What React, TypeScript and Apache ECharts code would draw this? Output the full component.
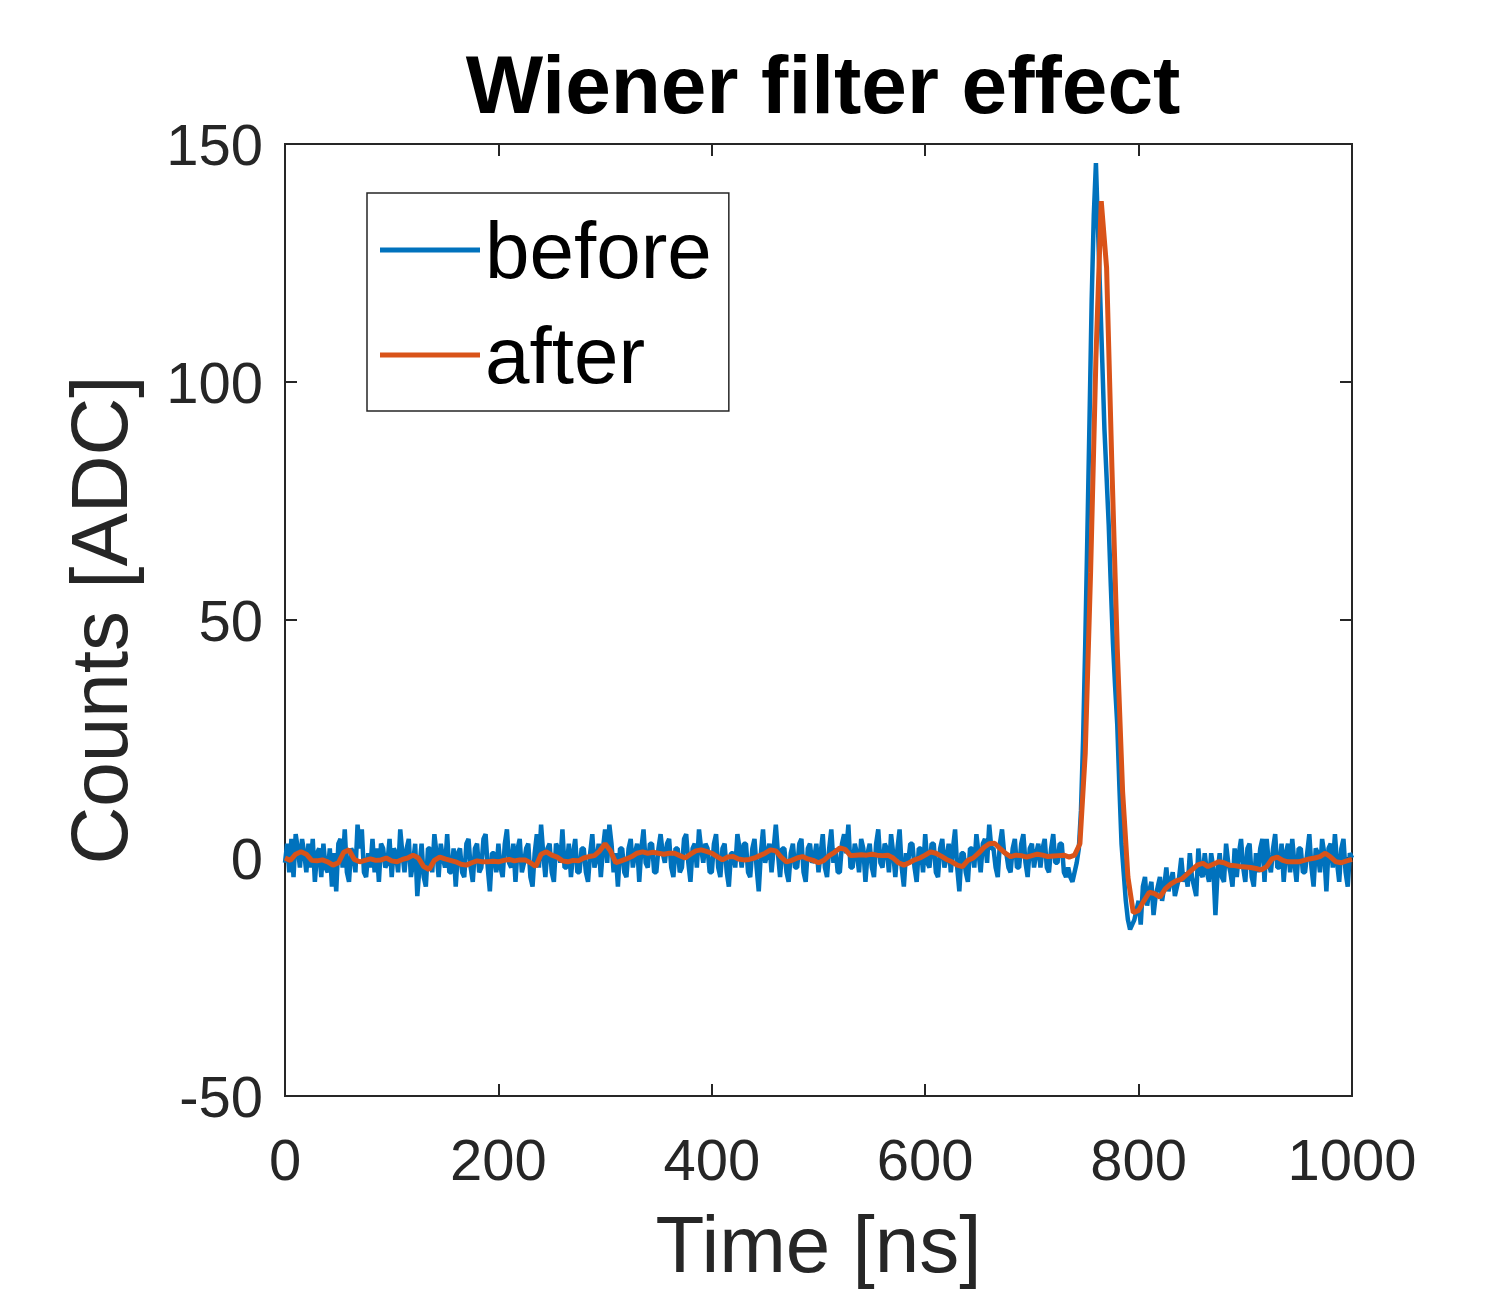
import React, { useEffect, useRef } from "react";
import * as echarts from "echarts";

const TITLE = "Wiener filter effect";
const X_NAME = "Time [ns]";
const Y_NAME = "Counts [ADC]";
const SERIES_NAMES = ["before", "after"];
const X_MIN = 0;
const X_MAX = 1000;
const X_INTERVAL = 200;
const Y_MIN = -50;
const Y_MAX = 150;
const Y_INTERVAL = 50;

// "before": raw waveform, one sample every 2 ns from 0 to 1000 ns
const BEFORE_STEP = 2;
const BEFORE = [
  -1, 3, -3, 4, -4, 5, 2, -2, 4, 1, -3, 3, -2, 4, -5, 1, 2, -4, 3, -2,
  -3, 2, -6, 1, -7, 3, 4, -2, 6, -3, -5, 2, 1, -3, 7, 2, 6, -3, -4, 1,
  -2, 4, -3, 2, -5, 3, 2, -2, -1, 4, -4, 2, 1, -3, 6, 1, -3, 2, 4, -4,
  -1, 3, -8, -2, 3, -4, -6, 2, 2, -3, 5, 1, -4, 3, 0, -2, 5, -3, -3, 2,
  -6, 1, 2, -3, -4, 3, 4, -2, -5, 2, 3, -3, -2, 4, 5, -2, -7, 1, 1, -3,
  3, -2, -4, 3, 6, -1, -2, 3, -5, 2, 4, -3, -1, 2, 3, -4, -6, 1, 5, -2,
  7, 1, -4, 2, 3, -3, -5, 3, 2, -1, 6, -2, -2, 3, -4, 1, 4, -3, -3, 2,
  2, -3, -5, 1, 5, -2, 0, 3, -4, 2, 6, -1, 7, 3, -3, 1, -6, 2, 2, -3,
  -4, 2, 4, -2, 1, 3, -5, 2, 6, -1, -2, 3, 3, -3, -3, 2, 5, 1, -1, 3,
  4, -2, -4, 2, 2, -3, -2, 4, 5, -1, -5, 2, 3, -2, 6, 2, -1, 3, 2, -3,
  -3, 3, 5, -2, -4, 2, 3, -3, -6, 1, 1, -2, 5, 2, -2, 3, 3, -3, -4, 2,
  4, -2, -7, 1, 6, -1, 1, 3, -3, 2, 7, 1, -4, 2, 2, -3, -5, 1, 3, -2,
  -2, 3, 4, -3, -5, 2, 3, -1, 0, 3, -3, 1, 5, -2, -4, 2, 6, -1, 2, -3,
  -3, 3, 5, 1, 7, -2, -2, 3, 1, -3, 4, 2, -5, 1, 3, -2, -4, 3, 6, -1,
  -2, 3, 2, -3, 5, 1, -4, 2, 6, -2, -6, 1, -1, 3, 3, -2, -5, 2, 2, -3,
  5, -1, -2, 3, 3, -3, -4, 2, 4, -2, 0, 3, -3, 2, 6, -2, -7, 1, 1, -3,
  -5, 2, 2, -2, 5, 1, -3, 3, 4, -1, 7, 2, 2, -2, -4, 3, 6, 1, 1, -2,
  -3, 2, 4, -2, -2, 3, 5, -1, -4, 2, 3, -2, 1, 3, -2, 2, 4, -2, -3, 2,
  5, -1, -1, 3, 3, -3, -4, -2, -4, -5,
  -3, -1, 2, 10, 25, 45, 68, 92, 117, 135, 146, 132, 118, 104, 90,
  80, 70, 57, 45, 36, 28, 15, 3, -3, -9, -13, -15, -14, -13, -11,
  -9, -14, -6, -4, -10, -7, -5, -12, -8, -6, -4, -9, -6, -2, -7, -5, -3, -8, -6, -4,
  0, -5, -3, -6, 1, -4, -6, -8, 2, -3, -4, 1, -3, -5, 1, -2, -12, -3, 1, -4,
  -5, 3, -1, -3, -6, 2, -4, 1, 4, -2, -5, 2, 3, -4, -6, 1, -3, 2, 4, -5,
  4, -1, -3, 2, 5, -2, -2, 3, -5, 1, 3, -3, 4, -1, -5, 2, 2, -3, -3, 1,
  5, -2, -6, 2, 1, -3, 4, 1, -7, 2, 3, -2, 5, -1, -5, 2, 4, -3, -6, 1,
  0,
];

// "after": filtered waveform, one sample every 5 ns from 0 to 1000 ns
const AFTER_STEP = 5;
const AFTER = [
  0, -0.5, 0.8, 1.3, 0.8, -0.5, -0.6, -0.4, -0.8, -1.5,
  -1.0, 1.2, 1.7, -0.3, -0.8, -0.5, -0.2, -0.5, -0.4, 0,
  -0.6, -0.8, -0.3, 0, 0.6, 0, -1.8, -2.4, -0.5, 0.2,
  -0.2, -0.5, -0.8, -1.3, -1.5, -1.0, -0.6, -0.8, -0.8, -0.7,
  -0.8, -0.5, -0.3, -0.6, -0.4, -0.4, -1.0, -1.8, 0.8, 1.3,
  0.6, 0.2, -0.6, -0.8, -0.5, -0.6, 0, 0.3, 0.5, 1.5,
  3.0, 1.5, -1.0, -0.6, -0.2, 0.3, 1.0, 1.3, 1.0, 1.2,
  1.0, 0.8, 1.0, 1.0, 0.5, 0, 0.8, 1.5, 1.7, 1.4,
  1.0, 0.3, -0.4, 0.2, 0.3, -0.2, -0.4, -0.3, 0, 0.5,
  1.0, 1.7, 1.5, 0.2, -0.8, -0.5, 0, 0.3, -0.2, -0.5,
  -1.0, -0.5, 0.5, 1.2, 2.1, 1.8, 0.5, 0.6, 0.7, 0.6,
  0.8, 0.6, 0.5, 0.6, 0, -1.0, -1.5, -1.0, -0.4, 0,
  0.6, 1.3, 1.0, 0.4, -0.3, -0.8, -1.5, -1.8, -0.5, 0,
  1.0, 2.2, 3.0, 3.1, 2.0, 1.0, 0.3, 0.6, 0.5, 0.2,
  0.5, 0.8, 0.6, 0.3, 0.4, 0.5, 0.6, 0.2, 0.6, 3,
  22, 60, 105, 138, 124, 82, 44, 14, -4, -11.5,
  -11, -9, -7.2, -7.5, -8.2, -6.5, -5.5, -4.8, -4.5, -3.5,
  -2.5, -1.5, -1.1, -1.8, -1.3, -0.8, -1.0, -1.5, -1.6, -1.8,
  -1.9, -2.0, -2.2, -2.5, -1.8, -0.2, 0.2, -0.5, -0.8, -0.8,
  -0.8, -0.5, -0.2, 0, 0.3, 1.0, 0.2, -0.8, -1.0, -0.6,
  -0.3,
];

const COLORS = ["#0072BD", "#D95319"];
const FONT = "'Liberation Sans', Arial, Helvetica, sans-serif";
const AXIS_COLOR = "#262626";

export default function App() {
  const ref = useRef<HTMLDivElement>(null);

  useEffect(() => {
    document.body.style.margin = "0";
    if (!ref.current) return;
    const chart = echarts.init(ref.current, undefined, { renderer: "svg" });

    const beforeData = BEFORE.map((v, i) => [i * BEFORE_STEP, v]);
    const afterData = AFTER.map((v, i) => [i * AFTER_STEP, v]);

    const tick = { show: true, inside: true, length: 12, lineStyle: { color: AXIS_COLOR, width: 2 } };

    const baseX = {
      type: "value",
      min: X_MIN,
      max: X_MAX,
      interval: X_INTERVAL,
      splitLine: { show: false },
      axisLine: { show: false, onZero: false },
      axisTick: tick,
    };
    const baseY = {
      type: "value",
      min: Y_MIN,
      max: Y_MAX,
      interval: Y_INTERVAL,
      splitLine: { show: false },
      axisLine: { show: false, onZero: false },
      axisTick: tick,
    };

    chart.setOption({
      animation: false,
      backgroundColor: "#ffffff",
      title: {
        text: TITLE,
        left: 818,
        top: 38,
        textAlign: "center",
        textStyle: { fontFamily: FONT, fontSize: 82, fontWeight: "bold", color: "#000" },
      },
      legend: {
        orient: "vertical",
        left: 367,
        top: 193,
        padding: [17, 17, 16, 13],
        icon: "rect",
        itemWidth: 100,
        itemHeight: 5,
        itemGap: 25,
        borderColor: AXIS_COLOR,
        borderWidth: 1.5,
        backgroundColor: "#fff",
        textStyle: { fontFamily: FONT, fontSize: 80, color: "#000" },
        data: SERIES_NAMES,
      },
      grid: {
        left: 285,
        right: 157,
        top: 144,
        bottom: 202,
        show: true,
        borderColor: AXIS_COLOR,
        borderWidth: 2,
        backgroundColor: "transparent",
      },
      xAxis: [
        {
          ...baseX,
          position: "bottom",
          name: X_NAME,
          nameLocation: "middle",
          nameGap: 108,
          nameTextStyle: { fontFamily: FONT, fontSize: 80, color: AXIS_COLOR },
          axisLabel: {
            fontFamily: FONT,
            fontSize: 58,
            color: AXIS_COLOR,
            margin: 34,
            formatter: (v: number) => String(v),
          },
        },
        { ...baseX, position: "top", axisLabel: { show: false } },
      ],
      yAxis: [
        {
          ...baseY,
          position: "left",
          name: Y_NAME,
          nameLocation: "middle",
          nameGap: 146,
          nameTextStyle: { fontFamily: FONT, fontSize: 80, color: AXIS_COLOR },
          axisLabel: {
            fontFamily: FONT,
            fontSize: 58,
            color: AXIS_COLOR,
            margin: 22,
            formatter: (v: number) => String(v),
          },
        },
        { ...baseY, position: "right", axisLabel: { show: false } },
      ],
      series: [
        {
          name: SERIES_NAMES[0],
          type: "line",
          data: beforeData,
          symbol: "none",
          showSymbol: false,
          color: COLORS[0],
          lineStyle: { width: 4.5, color: COLORS[0] },
          xAxisIndex: 0,
          yAxisIndex: 0,
          z: 2,
        },
        {
          name: SERIES_NAMES[1],
          type: "line",
          data: afterData,
          symbol: "none",
          showSymbol: false,
          color: COLORS[1],
          lineStyle: { width: 5, color: COLORS[1] },
          xAxisIndex: 0,
          yAxisIndex: 0,
          z: 3,
        },
      ],
    });

    return () => chart.dispose();
  }, []);

  return <div ref={ref} style={{ width: 1509, height: 1298 }} />;
}
